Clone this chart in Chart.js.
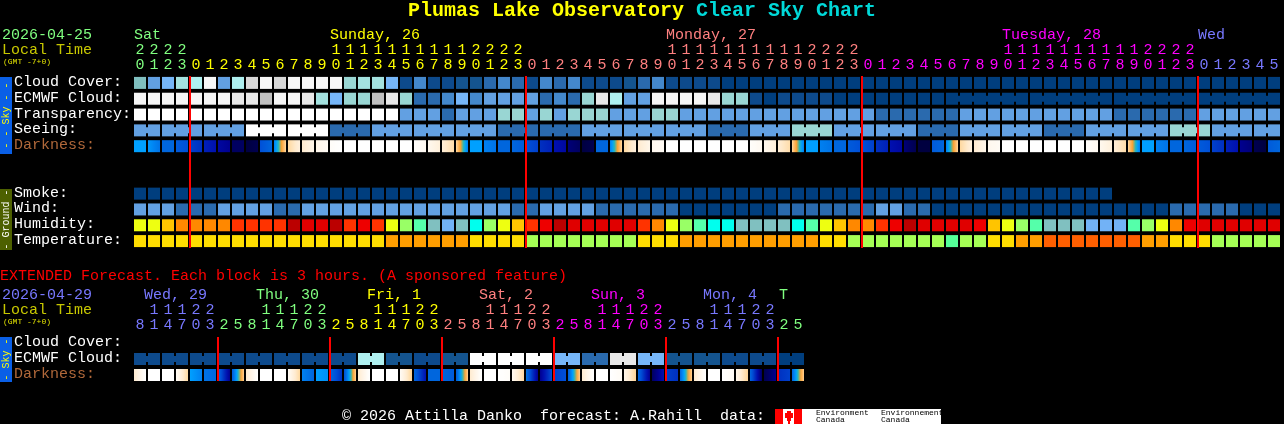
<!DOCTYPE html>
<html>
<head>
<meta charset="utf-8">
<title>Plumas Lake Observatory Clear Sky Chart</title>
<script src="https://cdn.jsdelivr.net/npm/chart.js@4/dist/chart.umd.min.js"></script>
<style>
html,body{margin:0;padding:0;background:#000;overflow:hidden}
canvas{position:absolute;left:0;display:block}
#main{top:0}
#ext{top:258px}
</style>
</head>
<body>
<canvas id="main" width="1284" height="258"></canvas>
<canvas id="ext" width="1284" height="166"></canvas>
<script>
/* ---------- text ---------- */
const titleWords = ['Plumas Lake Observatory', 'Clear', 'Sky', 'Chart'];
const mainDate = '2026-04-25';
const extDate = '2026-04-29';
const localTimeLabel = 'Local Time';
const gmtLabel = '(GMT -7+0)';
const extendedNote = 'EXTENDED Forecast. Each block is 3 hours. (A sponsored feature)';
const footerText = '\u00A9 2026 Attilla Danko  forecast: A.Rahill  data:';
const logoWords = [['Environment', 'Canada'], ['Environnement', 'Canada']];

/* ---------- categories ---------- */
const mainRows = ['Cloud Cover:', 'ECMWF Cloud:', 'Transparency:', 'Seeing:', 'Darkness:', '', ' ', 'Smoke:', 'Wind:', 'Humidity:', 'Temperature:'];
const extRows = ['Cloud Cover:', 'ECMWF Cloud:', 'Darkness:'];

const mainHours = [20,21,22,23,
  0,1,2,3,4,5,6,7,8,9,10,11,12,13,14,15,16,17,18,19,20,21,22,23,
  0,1,2,3,4,5,6,7,8,9,10,11,12,13,14,15,16,17,18,19,20,21,22,23,
  0,1,2,3,4,5,6,7,8,9,10,11,12,13,14,15,16,17,18,19,20,21,22,23,
  0,1,2,3,4,5];
const extHours = [8,11,14,17,20,23,
  2,5,8,11,14,17,20,23,
  2,5,8,11,14,17,20,23,
  2,5,8,11,14,17,20,23,
  2,5,8,11,14,17,20,23,
  2,5,8,11,14,17,20,23,
  2,5];

const mainDayNames = ['Sat', 'Sunday, 26', 'Monday, 27', 'Tuesday, 28', 'Wed'];
const mainDayLabelCols = [0, 14, 38, 62, 76];
const mainDayStartCols = [0, 4, 28, 52, 76];
const extDayNames = ['Wed, 29', 'Thu, 30', 'Fri, 1', 'Sat, 2', 'Sun, 3', 'Mon, 4', 'T'];
const extDayLabelCols = [0.71, 8.71, 16.64, 24.64, 32.64, 40.64, 46.07];
const extDayStartCols = [0, 6, 14, 22, 30, 38, 46];
const dayPalette = ['#80ff80', '#ffff00', '#ff8080', '#ff00ff', '#7878ff'];
const extDayPalette = ['#7878ff', '#80ff80', '#ffff00', '#ff8080', '#ff00ff', '#7878ff', '#80ff80'];

/* ---------- series, main forecast (one value per hour) ---------- */
const cloudCover = [7,5,6,9,10,14,5,10,12,14,12,14,14,14,14,8,9,9,6,1,4,1,1,2,2,3,4,3,1,4,3,4,1,1,1,2,3,4,1,1,1,1,
  0,0,0,0,0,0,0,0,0,0,0,0,0,0,0,0,0,0,0,0,0,0,0,0,0,0,0,0,0,0,0,0,0,0,0,0,0,0,0,0];
const ecmwfCloud = [14,14,14,14,14,14,14,13,13,11,14,14,13,9,6,8,8,11,13,8,3,3,4,6,4,5,5,5,5,3,4,3,8,13,10,5,5,14,14,14,14,13,8,8,1,0,1,1,1,1,0,0,
  0,0,0,0,0,0,0,0,0,0,0,0,0,0,0,0,0,0,0,0,0,0,0,0,0,0,0,0,0,0];
const transparency = [15,15,15,15,15,15,15,15,15,15,15,15,15,15,15,15,15,15,15,5,5,5,3,5,5,5,8,8,5,8,5,8,8,8,5,5,5,8,8,5,5,5,5,5,5,5,5,5,5,5,5,5,
  5,3,3,3,3,3,3,5,5,5,5,5,5,5,5,5,5,5,3,3,3,3,3,3,5,5,5,5,5,5];
const seeing = [5,5,5,5,5,5,5,5,15,15,15,15,15,15,3,3,3,5,5,5,5,5,5,5,5,5,3,3,3,3,3,3,5,5,5,5,5,5,5,5,5,3,3,3,5,5,5,8,8,8,5,5,5,
  5,5,5,3,3,3,5,5,5,5,5,5,3,3,3,5,5,5,5,5,5,8,8,8,5,5,5,5,5];
const darknessStart = [7,7.3,9,9.5,10.5,11.5,12.5,14,15,10,8,3,2,1,0.3,0,0,0,0,0,0.2,0.8,1.8,3,7,8,9,9,10,11,12,13.5,15,9,8,3,2,0.8,0,0,0,0,0,0,0.2,0.8,1.8,3,7,8,9,9.5,
  10,11,12,13.5,15,9.5,8,3,2,0.8,0,0,0,0,0,0,0.2,0.8,1.8,3,7,8,9,9,9.5,10.5,11.5,13,14.5,9.5];
const darknessEnd = [7,8.5,9,10,11,12,13,14,14.5,9,3,1.5,1,0.5,0,0,0,0,0,0,0.7,1.6,2.8,8,7,8.5,9,9.5,10.5,11.5,12.5,14,14.5,9,3,1.5,1,0.5,0,0,0,0,0,0,0.7,1.6,2.8,8,7,8.5,9,10,
  10.5,11.5,12.5,14.5,15,9,3,1.5,1,0.5,0,0,0,0,0,0,0.7,1.6,2.8,8,7,8.5,9,9.5,10,11,12,13.5,15,9];
const smoke = [0,0,0,0,0,0,0,0,0,0,0,0,0,0,0,0,0,0,0,0,0,0,0,0,0,0,0,0,0,0,0,0,0,0,0,0,0,0,0,0,0,0,0,0,0,0,0,0,0,0,0,0,
  0,0,0,0,0,0,0,0,0,0,0,0,0,0,0,0,0,0,null,null,null,null,null,null,null,null,null,null,null,null];
const wind = [5,5,5,3,3,3,5,5,5,5,3,3,5,5,5,5,5,5,5,5,5,5,5,5,5,5,5,3,3,5,5,5,5,3,3,3,3,3,3,0,0,0,0,0,0,0,3,3,3,3,3,3,
  3,5,5,3,3,0,0,0,0,0,0,0,0,0,0,0,0,0,0,0,0,0,3,3,3,3,3,0,0,0];
const humidity = [72,72,77,82,82,82,82,87,87,87,87,97,94,94,97,87,91,87,72,67,62,52,47,52,57,67,72,77,87,91,97,94,94,94,94,94,87,82,72,67,62,57,57,52,52,52,52,57,62,72,77,82,
  82,87,91,97,94,94,94,94,91,77,72,67,62,52,52,52,47,47,47,62,67,72,82,91,94,94,94,94,94,94];
const temperature = [15,15,15,15,15,15,15,15,15,15,15,15,15,15,15,15,15,15,18,18,18,18,18,18,15,15,15,15,12,12,12,12,12,12,12,12,15,15,15,18,18,18,18,18,18,18,18,18,18,15,15,12,
  12,12,12,12,12,12,9,12,12,15,15,18,18,21,21,21,21,21,21,21,18,18,15,15,15,12,12,12,12,12];

/* ---------- series, extended forecast (one value per 3-hour block) ---------- */
const extCloudCover = [];
const extEcmwfCloud = [1,1,1,1,1,1,1,1,1,1,1,1,1,1,1,1,10,10,2,2,1,1,2,2,15,15,15,15,15,15,6,6,3,3,13,13,6,6,2,2,2,2,1,1,1,1,0,0];
const extDarknessStart = [2,0,0,0.5,7,8.5,9,9.5,2,0,0,0.5,8,7,9,10,2,0,0,0.5,9,9,9,9.5,2,0,0,0.7,8.5,13,10.5,9.5,2,0,0,1,9,14,10.5,9,2,0,0,1,9,14.5,11,9];
const extDarknessEnd = [0,0,0,3,8,9,13,3.2,0,0,0,3,9,7.5,11,3.2,0,0,0,3.2,12,9,9.5,3.2,0,0,0.3,3,13,10,10,3.2,0,0,0.5,3.2,13,12,11,3.2,0,0,0.5,3.2,14,13,10.5,3.2];

/* groups of columns that share one coarser forecast value */
const seeingBlocks = [[0,1],[2,4],[5,7],[8,10],[11,13],[14,16],[17,19],[20,22],[23,25],[26,28],[29,31],[32,34],[35,37],[38,40],[41,43],[44,46],[47,49],[50,52],[53,55],[56,58],[59,61],[62,64],[65,67],[68,70],[71,73],[74,76],[77,79],[80,81]];
const ecmwfBlocks = [[58,63],[64,69],[70,75],[76,81]];
const extEcmwfBlocks = [[0,1],[2,3],[4,5],[6,7],[8,9],[10,11],[12,13],[14,15],[16,17],[18,19],[20,21],[22,23],[24,25],[26,27],[28,29],[30,31],[32,33],[34,35],[36,37],[38,39],[40,41],[42,43],[44,45],[46,47]];

const mainMidnights = [4, 28, 52, 76];
const extMidnights = [6, 14, 22, 30, 38, 46];

/* ---------- colour keys ---------- */
const skyPalette = ['#003e7e','#0d4a8c','#14548f','#2a6aae','#4488cc','#62a0e2','#76b6f8','#80bfbf','#99d6d3','#a4e2e0','#aff0f0','#c0c0c0','#d8d8d8','#e8e8e8','#f6f6f6','#ffffff'];
const humidityPalette = {47:'#72b2f6',52:'#80c0c0',57:'#00ffee',62:'#55ffaa',67:'#99ff66',72:'#eeff11',77:'#ffc400',82:'#ff8800',87:'#ff3300',91:'#ee0000',94:'#e00000',97:'#bb0000'};
const temperaturePalette = {9:'#55ff99',12:'#a6ff55',15:'#ffdd00',18:'#ff9e00',21:'#ff5f00'};
const darknessRamp = ['#ffffff','#fff6ea','#ffebd0','#ffd9a0','#ffb860','#f5a030','#30b8b0','#00a0ff','#0080f0','#0066dd','#0050d8','#0030c0','#0010b0','#000090','#000060','#000040'];

/* ---------- geometry of the grid ---------- */
const FONT = '"Liberation Mono", monospace';
const CELL = 12 / 14;          // cell width as a fraction of one column
const LINE = 1 / 14;           // half width of a midnight line, in columns
const X_MAX = 1150 / 14;       // columns that fit between the plot's left edge and the canvas edge

const hex = s => [parseInt(s.slice(1,3),16), parseInt(s.slice(3,5),16), parseInt(s.slice(5,7),16)];
function rampColor(level) {
  const i = Math.min(Math.floor(level), darknessRamp.length - 2), f = level - i;
  const a = hex(darknessRamp[i]), b = hex(darknessRamp[i + 1]);
  return `rgb(${a.map((v,k) => Math.round(v + (b[k]-v)*f)).join(',')})`;
}
function darknessFill(starts, ends) {
  return ctx => {
    const d = ctx.raw, scale = ctx.chart.scales.x;
    if (!d || !scale) return '#000';
    const x0 = scale.getPixelForValue(d.x[0]), x1 = scale.getPixelForValue(d.x[1]);
    if (!isFinite(x0) || !isFinite(x1)) return '#000';
    const g = ctx.chart.ctx.createLinearGradient(x0, 0, x1, 0);
    const a = starts[d.col], b = ends[d.col];
    for (let t = 0; t <= 8; t++) g.addColorStop(t / 8, rampColor(a + (b - a) * t / 8));
    return g;
  };
}
const cellData = (vals, row) => vals.map((v, c) => v === null ? null : { x:[c, c + CELL], y:row, col:c }).filter(Boolean);
const rowSet = (vals, row, colorOf) => ({
  label: row,
  data: cellData(vals, row),
  backgroundColor: vals.filter(v => v !== null).map(colorOf),
  barThickness: 12
});
const darkSet = (starts, ends, row) => ({
  label: row,
  data: cellData(starts, row),
  backgroundColor: darknessFill(starts, ends),
  barThickness: 12
});
/* narrow joins between cells of one block */
function joinSet(vals, blocks, row, colorOf) {
  const data = [], colors = [];
  blocks.forEach(([a, b]) => {
    for (let c = a; c < b; c++) { data.push({ x:[c + CELL, c + 1], y:row }); colors.push(colorOf(vals[c])); }
  });
  return { label: row + ' blocks', data, backgroundColor: colors, barThickness: 6 };
}
const lineSet = (cols, row, thick) => ({
  label: 'midnight',
  data: cols.map(c => ({ x:[c - LINE, c + LINE], y:row })),
  backgroundColor: '#ff0000',
  barThickness: thick
});
const sky = v => skyPalette[v];

function hourAxis(hours, startCols, palette, height) {
  const colorFor = i => { let k = 0; startCols.forEach((s, n) => { if (i >= s) k = n; }); return palette[k]; };
  return {
    type: 'linear', position: 'top', min: 0, max: X_MAX,
    grid: { display: false, drawTicks: false }, border: { display: false },
    afterFit: s => { s.height = height; },
    afterBuildTicks: s => { s.ticks = hours.map((h, c) => ({ value: c + 3 / 7 })); },
    ticks: {
      autoSkip: false, maxRotation: 0, minRotation: 0, padding: 2,
      font: { family: FONT, size: 15, lineHeight: 1 },
      color: ctx => colorFor(ctx.index),
      callback: (v, i) => [hours[i] >= 10 ? String(Math.floor(hours[i] / 10)) : ' ', String(hours[i] % 10)]
    }
  };
}
const rowAxis = () => ({
  type: 'category', position: 'left',
  grid: { display: false, drawTicks: false }, border: { display: false },
  afterFit: s => { s.width = 120; },
  ticks: {
    autoSkip: false, crossAlign: 'far', padding: 0, labelOffset: -1,
    font: { family: FONT, size: 15 },
    color: ctx => ctx.tick && ctx.tick.label === 'Darkness:' ? '#b0683a' : '#ffffff'
  }
});

function put(ctx, text, x, y, color, font) {
  ctx.font = font || `15px ${FONT}`;
  ctx.fillStyle = color;
  ctx.textAlign = 'left';
  ctx.textBaseline = 'middle';
  ctx.fillText(text, x, y);
}
function band(ctx, top, bottom, color, text, textColor) {
  ctx.fillStyle = color;
  ctx.fillRect(0, top, 12, bottom - top);
  ctx.save();
  ctx.translate(6, (top + bottom) / 2);
  ctx.rotate(-Math.PI / 2);
  ctx.font = `10px ${FONT}`;
  ctx.fillStyle = textColor;
  ctx.textAlign = 'center';
  ctx.textBaseline = 'middle';
  ctx.fillText(text, 0, 0);
  ctx.restore();
}

const mainText = {
  id: 'mainText',
  afterDraw(chart) {
    const ctx = chart.ctx, xs = chart.scales.x;
    ctx.save();
    const big = `bold 20px ${FONT}`;
    put(ctx, titleWords[0], 408, 11, '#ffff00', big);
    put(ctx, titleWords[1], 696, 11, '#00d8d8', big);
    put(ctx, titleWords[2], 768, 11, '#00d8d8', big);
    put(ctx, titleWords[3], 816, 11, '#00d8d8', big);
    put(ctx, mainDate, 2, 35, '#80ff80');
    put(ctx, localTimeLabel, 2, 50, '#c8c800');
    put(ctx, gmtLabel, 3, 62, '#e0e000', `8px ${FONT}`);
    mainDayNames.forEach((n, i) => put(ctx, n, xs.getPixelForValue(mainDayLabelCols[i]), 35, dayPalette[i]));
    band(ctx, 77, 154, '#0a5fe6', '- - Sky - -', '#ffff00');
    band(ctx, 189, 250, '#4d6000', '- Ground -', '#ffffff');
    ctx.restore();
  }
};
const extText = {
  id: 'extText',
  afterDraw(chart) {
    const ctx = chart.ctx, xs = chart.scales.x;
    ctx.save();
    put(ctx, extendedNote, 0, 18, '#ff0000');
    put(ctx, extDate, 2, 37, '#7878ff');
    put(ctx, localTimeLabel, 2, 52, '#c8c800');
    put(ctx, gmtLabel, 3, 64, '#e0e000', `8px ${FONT}`);
    extDayNames.forEach((n, i) => put(ctx, n, xs.getPixelForValue(extDayLabelCols[i]), 37, extDayPalette[i]));
    band(ctx, 79, 124, '#0a5fe6', '- Sky -', '#ffff00');
    put(ctx, footerText, 342, 158, '#ffffff');
    /* data-source logo */
    ctx.fillStyle = '#ffffff'; ctx.fillRect(775, 151, 166, 15);
    ctx.fillStyle = '#ff0000'; ctx.fillRect(775, 151, 8, 15); ctx.fillRect(794, 151, 8, 15);
    ctx.fillRect(785, 155, 8, 5); ctx.fillRect(787, 153, 4, 10); ctx.fillRect(788, 163, 2, 3);
    const small = `8px ${FONT}`;
    put(ctx, logoWords[0][0], 816, 155, '#000000', small);
    put(ctx, logoWords[0][1], 816, 162, '#000000', small);
    put(ctx, logoWords[1][0], 881, 155, '#000000', small);
    put(ctx, logoWords[1][1], 881, 162, '#000000', small);
    ctx.restore();
  }
};

const commonOptions = (hourScale, padBottom) => ({
  indexAxis: 'y',
  responsive: false,
  animation: false,
  devicePixelRatio: 1,
  layout: { padding: { left: 14, right: 0, top: 0, bottom: padBottom } },
  datasets: { bar: { grouped: false, borderWidth: 0, inflateAmount: 0 } },
  plugins: { legend: { display: false }, tooltip: { enabled: false }, title: { display: false } },
  scales: { x: hourScale, y: rowAxis() }
});

new Chart(document.getElementById('main'), {
  type: 'bar',
  data: {
    labels: mainRows,
    datasets: [
      lineSet(mainMidnights, mainRows[5], 172),
      rowSet(cloudCover, mainRows[0], sky),
      rowSet(ecmwfCloud, mainRows[1], sky),
      joinSet(ecmwfCloud, ecmwfBlocks, mainRows[1], sky),
      rowSet(transparency, mainRows[2], sky),
      rowSet(seeing, mainRows[3], sky),
      joinSet(seeing, seeingBlocks, mainRows[3], sky),
      darkSet(darknessStart, darknessEnd, mainRows[4]),
      rowSet(smoke, mainRows[7], sky),
      rowSet(wind, mainRows[8], sky),
      rowSet(humidity, mainRows[9], v => humidityPalette[v]),
      rowSet(temperature, mainRows[10], v => temperaturePalette[v])
    ]
  },
  options: commonOptions(hourAxis(mainHours, mainDayStartCols, dayPalette, 75), 7),
  plugins: [mainText]
});

new Chart(document.getElementById('ext'), {
  type: 'bar',
  data: {
    labels: extRows,
    datasets: [
      lineSet(extMidnights, extRows[1], 44),
      rowSet(extCloudCover, extRows[0], sky),
      rowSet(extEcmwfCloud, extRows[1], sky),
      joinSet(extEcmwfCloud, extEcmwfBlocks, extRows[1], sky),
      darkSet(extDarknessStart, extDarknessEnd, extRows[2])
    ]
  },
  options: commonOptions(hourAxis(extHours, extDayStartCols, extDayPalette, 77), 41),
  plugins: [extText]
});
</script>
</body>
</html>
